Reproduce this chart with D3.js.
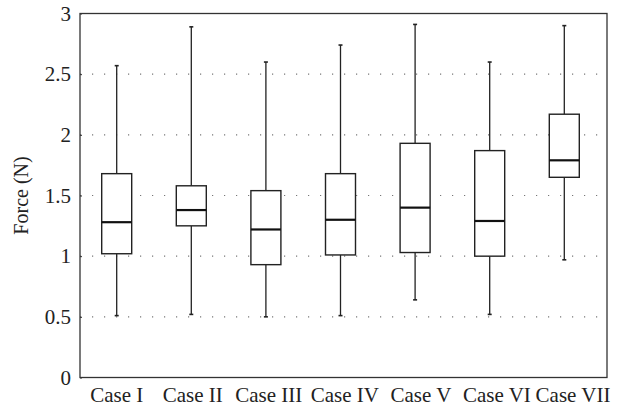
<!DOCTYPE html>
<html>
<head>
<meta charset="utf-8">
<script src="https://cdn.jsdelivr.net/npm/d3@7"></script>
<style>
  body { margin: 0; background: #fff; }
  svg text { font-family: "Liberation Serif", "DejaVu Serif", serif; fill: #222; }
</style>
</head>
<body>
<svg id="chart"></svg>
<script>
// values
const cases = ["Case I", "Case II", "Case III", "Case IV", "Case V", "Case VI", "Case VII"];
const whiskerLow  = [0.51, 0.52, 0.50, 0.51, 0.64, 0.52, 0.97];
const q1          = [1.02, 1.25, 0.93, 1.01, 1.03, 1.00, 1.65];
const medians     = [1.28, 1.38, 1.22, 1.30, 1.40, 1.29, 1.79];
const q3          = [1.68, 1.58, 1.54, 1.68, 1.93, 1.87, 2.17];
const whiskerHigh = [2.57, 2.89, 2.60, 2.74, 2.91, 2.60, 2.90];
const yTicks = [0, 0.5, 1, 1.5, 2, 2.5, 3];

const width = 617, height = 408;
const margin = { left: 80, right: 607, top: 13.5, bottom: 377.5 };

const svg = d3.select("#chart")
  .attr("width", width)
  .attr("height", height);

const boxes = cases.map((c, i) => ({
  name: c, lo: whiskerLow[i], q1: q1[i], med: medians[i], q3: q3[i], hi: whiskerHigh[i]
}));

// x scale - boxes sit a bit left of centre in the original
const x = d3.scaleBand()
  .domain(cases)
  .range([79.4, 601.6]);

// the labels are spread a little wider than the boxes in the original
const xLabels = d3.scaleBand()
  .domain(cases)
  .range([78.7, 611]);

const y = d3.scaleLinear()
  .domain([0, 3])
  .range([margin.bottom, margin.top]);

// dotted grid
svg.append("g").selectAll("line")
  .data(yTicks.filter(d => d > 0 && d < 3))
  .join("line")
  .attr("x1", margin.left)
  .attr("x2", margin.right)
  .attr("y1", d => y(d))
  .attr("y2", d => y(d))
  .attr("stroke", "#777")
  .attr("stroke-width", 1.2)
  .attr("stroke-dasharray", "1.2,10.8");

// y axis with tiny inward ticks
const yAxis = svg.append("g")
  .attr("transform", `translate(${margin.left},0)`)
  .call(d3.axisLeft(y).tickValues(yTicks).tickFormat(d3.format("")).tickSize(-2).tickPadding(9));
yAxis.select(".domain").remove();
yAxis.selectAll(".tick line").attr("stroke", "#333");
yAxis.selectAll("text")
  .style("font-size", "21px")
  .attr("dy", "0.32em");

// x axis labels
const xAxis = svg.append("g")
  .attr("transform", `translate(0,${margin.bottom})`)
  .call(d3.axisBottom(xLabels).tickSize(0).tickPadding(10));
xAxis.select(".domain").remove();
xAxis.selectAll("text")
  .style("font-size", "21px")
  .attr("dy", "0.71em");

// frame
svg.append("rect")
  .attr("x", margin.left)
  .attr("y", margin.top)
  .attr("width", margin.right - margin.left)
  .attr("height", margin.bottom - margin.top)
  .attr("fill", "none")
  .attr("stroke", "#333")
  .attr("stroke-width", 1.3);

// y label
svg.append("text")
  .attr("transform", `translate(28,${(margin.top + margin.bottom) / 2}) rotate(-90)`)
  .attr("text-anchor", "middle")
  .style("font-size", "20px")
  .text("Force (N)");

// boxplots
const boxW = 30, capW = 4;
const g = svg.append("g").selectAll("g")
  .data(boxes)
  .join("g")
  .attr("transform", d => `translate(${x(d.name) + x.bandwidth() / 2},0)`);

// whiskers
g.append("line")
  .attr("x1", 0).attr("x2", 0)
  .attr("y1", d => y(d.q3)).attr("y2", d => y(d.hi))
  .attr("stroke", "#222").attr("stroke-width", 1.3);
g.append("line")
  .attr("x1", 0).attr("x2", 0)
  .attr("y1", d => y(d.q1)).attr("y2", d => y(d.lo))
  .attr("stroke", "#222").attr("stroke-width", 1.3);

// caps
g.append("line")
  .attr("x1", -capW / 2).attr("x2", capW / 2)
  .attr("y1", d => y(d.hi)).attr("y2", d => y(d.hi))
  .attr("stroke", "#222").attr("stroke-width", 1.6);
g.append("line")
  .attr("x1", -capW / 2).attr("x2", capW / 2)
  .attr("y1", d => y(d.lo)).attr("y2", d => y(d.lo))
  .attr("stroke", "#222").attr("stroke-width", 1.6);

// box
g.append("rect")
  .attr("x", -boxW / 2)
  .attr("width", boxW)
  .attr("y", d => y(d.q3))
  .attr("height", d => y(d.q1) - y(d.q3))
  .attr("fill", "#fff")
  .attr("stroke", "#222")
  .attr("stroke-width", 1.4);

// median
g.append("line")
  .attr("x1", -boxW / 2).attr("x2", boxW / 2)
  .attr("y1", d => y(d.med)).attr("y2", d => y(d.med))
  .attr("stroke", "#111").attr("stroke-width", 2.2);
</script>
</body>
</html>
